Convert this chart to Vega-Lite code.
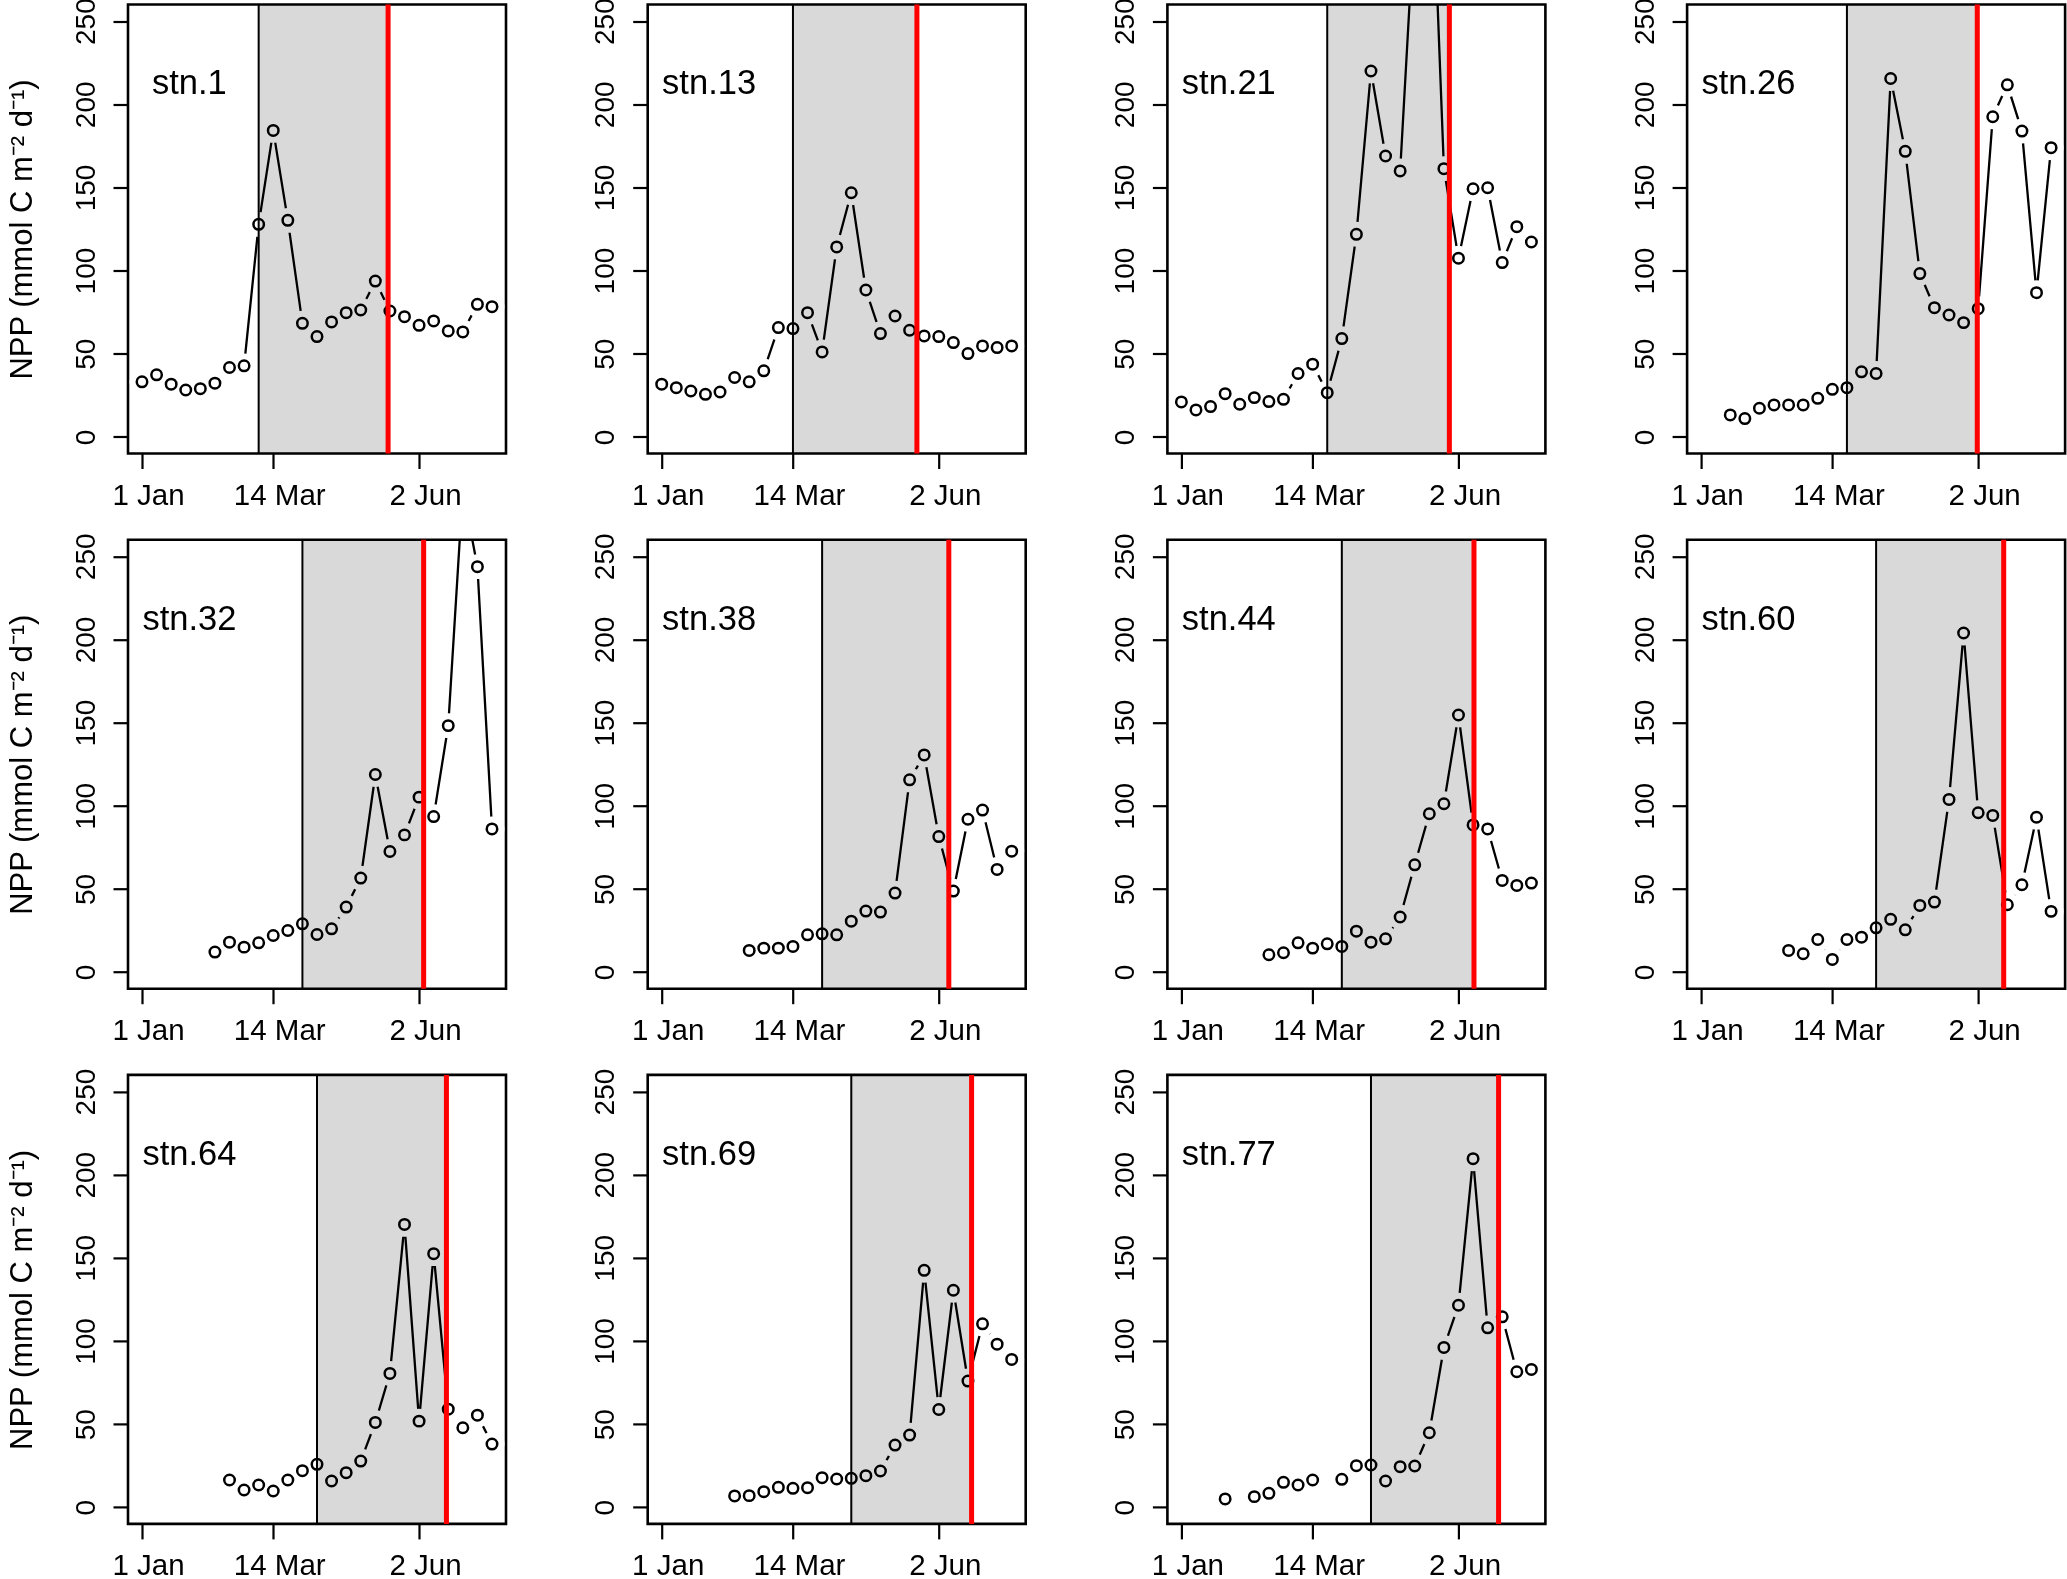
{
  "$schema": "https://vega.github.io/schema/vega-lite/v6.json",
  "background": "white",
  "padding": {"left": 4, "top": -4.5, "right": 0, "bottom": 0},
  "datasets": {
    "npp": [
      {"stn": "stn.1", "day": 1, "npp": 33.1}, {"stn": "stn.1", "day": 9, "npp": 37.3}, {"stn": "stn.1", "day": 17, "npp": 31.7}, {"stn": "stn.1", "day": 25, "npp": 28.2}, {"stn": "stn.1", "day": 33, "npp": 29.0}, {"stn": "stn.1", "day": 41, "npp": 32.3}, {"stn": "stn.1", "day": 49, "npp": 41.7}, {"stn": "stn.1", "day": 57, "npp": 42.7}, {"stn": "stn.1", "day": 65, "npp": 127.8}, {"stn": "stn.1", "day": 73, "npp": 184.3}, {"stn": "stn.1", "day": 81, "npp": 130.2}, {"stn": "stn.1", "day": 89, "npp": 68.3}, {"stn": "stn.1", "day": 97, "npp": 60.3}, {"stn": "stn.1", "day": 105, "npp": 69.1}, {"stn": "stn.1", "day": 113, "npp": 74.7}, {"stn": "stn.1", "day": 121, "npp": 76.3}, {"stn": "stn.1", "day": 129, "npp": 93.7}, {"stn": "stn.1", "day": 137, "npp": 75.7}, {"stn": "stn.1", "day": 145, "npp": 72.3}, {"stn": "stn.1", "day": 153, "npp": 67.1}, {"stn": "stn.1", "day": 161, "npp": 69.7}, {"stn": "stn.1", "day": 169, "npp": 63.7}, {"stn": "stn.1", "day": 177, "npp": 63.1}, {"stn": "stn.1", "day": 185, "npp": 79.7}, {"stn": "stn.1", "day": 193, "npp": 78.3},
      {"stn": "stn.13", "day": 1, "npp": 31.7}, {"stn": "stn.13", "day": 9, "npp": 29.6}, {"stn": "stn.13", "day": 17, "npp": 27.6}, {"stn": "stn.13", "day": 25, "npp": 25.6}, {"stn": "stn.13", "day": 33, "npp": 27.0}, {"stn": "stn.13", "day": 41, "npp": 35.7}, {"stn": "stn.13", "day": 49, "npp": 33.1}, {"stn": "stn.13", "day": 57, "npp": 39.7}, {"stn": "stn.13", "day": 65, "npp": 65.7}, {"stn": "stn.13", "day": 73, "npp": 65.1}, {"stn": "stn.13", "day": 81, "npp": 74.7}, {"stn": "stn.13", "day": 89, "npp": 51.1}, {"stn": "stn.13", "day": 97, "npp": 114.2}, {"stn": "stn.13", "day": 105, "npp": 146.8}, {"stn": "stn.13", "day": 113, "npp": 88.3}, {"stn": "stn.13", "day": 121, "npp": 62.1}, {"stn": "stn.13", "day": 129, "npp": 72.7}, {"stn": "stn.13", "day": 137, "npp": 64.1}, {"stn": "stn.13", "day": 145, "npp": 60.7}, {"stn": "stn.13", "day": 153, "npp": 60.3}, {"stn": "stn.13", "day": 161, "npp": 56.7}, {"stn": "stn.13", "day": 169, "npp": 50.1}, {"stn": "stn.13", "day": 177, "npp": 54.7}, {"stn": "stn.13", "day": 185, "npp": 53.7}, {"stn": "stn.13", "day": 193, "npp": 54.7},
      {"stn": "stn.21", "day": 1, "npp": 21.0}, {"stn": "stn.21", "day": 9, "npp": 16.2}, {"stn": "stn.21", "day": 17, "npp": 18.2}, {"stn": "stn.21", "day": 25, "npp": 26.0}, {"stn": "stn.21", "day": 33, "npp": 19.6}, {"stn": "stn.21", "day": 41, "npp": 23.6}, {"stn": "stn.21", "day": 49, "npp": 21.2}, {"stn": "stn.21", "day": 57, "npp": 22.6}, {"stn": "stn.21", "day": 65, "npp": 38.1}, {"stn": "stn.21", "day": 73, "npp": 43.7}, {"stn": "stn.21", "day": 81, "npp": 26.6}, {"stn": "stn.21", "day": 89, "npp": 59.1}, {"stn": "stn.21", "day": 97, "npp": 121.8}, {"stn": "stn.21", "day": 105, "npp": 220.0}, {"stn": "stn.21", "day": 113, "npp": 168.9}, {"stn": "stn.21", "day": 121, "npp": 159.9}, {"stn": "stn.21", "day": 129, "npp": 316}, {"stn": "stn.21", "day": 137, "npp": 390}, {"stn": "stn.21", "day": 145, "npp": 161.3}, {"stn": "stn.21", "day": 153, "npp": 107.4}, {"stn": "stn.21", "day": 161, "npp": 149.2}, {"stn": "stn.21", "day": 169, "npp": 149.8}, {"stn": "stn.21", "day": 177, "npp": 104.8}, {"stn": "stn.21", "day": 185, "npp": 126.4}, {"stn": "stn.21", "day": 193, "npp": 117.2},
      {"stn": "stn.26", "day": 17, "npp": 13.2}, {"stn": "stn.26", "day": 25, "npp": 11.0}, {"stn": "stn.26", "day": 33, "npp": 17.2}, {"stn": "stn.26", "day": 41, "npp": 19.2}, {"stn": "stn.26", "day": 49, "npp": 19.2}, {"stn": "stn.26", "day": 57, "npp": 19.2}, {"stn": "stn.26", "day": 65, "npp": 23.2}, {"stn": "stn.26", "day": 73, "npp": 28.6}, {"stn": "stn.26", "day": 81, "npp": 29.6}, {"stn": "stn.26", "day": 89, "npp": 39.1}, {"stn": "stn.26", "day": 97, "npp": 38.1}, {"stn": "stn.26", "day": 105, "npp": 215.5}, {"stn": "stn.26", "day": 113, "npp": 171.7}, {"stn": "stn.26", "day": 121, "npp": 98.2}, {"stn": "stn.26", "day": 129, "npp": 77.7}, {"stn": "stn.26", "day": 137, "npp": 73.3}, {"stn": "stn.26", "day": 145, "npp": 68.7}, {"stn": "stn.26", "day": 153, "npp": 77.1}, {"stn": "stn.26", "day": 161, "npp": 192.5}, {"stn": "stn.26", "day": 169, "npp": 211.7}, {"stn": "stn.26", "day": 177, "npp": 183.9}, {"stn": "stn.26", "day": 185, "npp": 86.7}, {"stn": "stn.26", "day": 193, "npp": 173.9},
      {"stn": "stn.32", "day": 41, "npp": 12.0}, {"stn": "stn.32", "day": 49, "npp": 18.0}, {"stn": "stn.32", "day": 57, "npp": 15.0}, {"stn": "stn.32", "day": 65, "npp": 17.6}, {"stn": "stn.32", "day": 73, "npp": 22.0}, {"stn": "stn.32", "day": 81, "npp": 25.0}, {"stn": "stn.32", "day": 89, "npp": 29.0}, {"stn": "stn.32", "day": 97, "npp": 22.6}, {"stn": "stn.32", "day": 105, "npp": 26.0}, {"stn": "stn.32", "day": 113, "npp": 39.1}, {"stn": "stn.32", "day": 121, "npp": 56.5}, {"stn": "stn.32", "day": 129, "npp": 118.8}, {"stn": "stn.32", "day": 137, "npp": 72.5}, {"stn": "stn.32", "day": 145, "npp": 82.5}, {"stn": "stn.32", "day": 153, "npp": 105.2}, {"stn": "stn.32", "day": 161, "npp": 93.5}, {"stn": "stn.32", "day": 169, "npp": 148.2}, {"stn": "stn.32", "day": 177, "npp": 290}, {"stn": "stn.32", "day": 185, "npp": 243.8}, {"stn": "stn.32", "day": 193, "npp": 86.1},
      {"stn": "stn.38", "day": 49, "npp": 13.0}, {"stn": "stn.38", "day": 57, "npp": 14.4}, {"stn": "stn.38", "day": 65, "npp": 14.4}, {"stn": "stn.38", "day": 73, "npp": 15.4}, {"stn": "stn.38", "day": 81, "npp": 22.4}, {"stn": "stn.38", "day": 89, "npp": 23.0}, {"stn": "stn.38", "day": 97, "npp": 22.4}, {"stn": "stn.38", "day": 105, "npp": 30.6}, {"stn": "stn.38", "day": 113, "npp": 36.7}, {"stn": "stn.38", "day": 121, "npp": 36.1}, {"stn": "stn.38", "day": 129, "npp": 47.5}, {"stn": "stn.38", "day": 137, "npp": 115.6}, {"stn": "stn.38", "day": 145, "npp": 130.6}, {"stn": "stn.38", "day": 153, "npp": 81.5}, {"stn": "stn.38", "day": 161, "npp": 48.7}, {"stn": "stn.38", "day": 169, "npp": 91.9}, {"stn": "stn.38", "day": 177, "npp": 97.4}, {"stn": "stn.38", "day": 185, "npp": 61.7}, {"stn": "stn.38", "day": 193, "npp": 72.7},
      {"stn": "stn.44", "day": 49, "npp": 10.4}, {"stn": "stn.44", "day": 57, "npp": 11.6}, {"stn": "stn.44", "day": 65, "npp": 17.6}, {"stn": "stn.44", "day": 73, "npp": 14.4}, {"stn": "stn.44", "day": 81, "npp": 17.0}, {"stn": "stn.44", "day": 89, "npp": 15.4}, {"stn": "stn.44", "day": 97, "npp": 24.6}, {"stn": "stn.44", "day": 105, "npp": 18.0}, {"stn": "stn.44", "day": 113, "npp": 20.0}, {"stn": "stn.44", "day": 121, "npp": 33.1}, {"stn": "stn.44", "day": 129, "npp": 64.5}, {"stn": "stn.44", "day": 137, "npp": 95.2}, {"stn": "stn.44", "day": 145, "npp": 101.2}, {"stn": "stn.44", "day": 153, "npp": 154.6}, {"stn": "stn.44", "day": 161, "npp": 88.5}, {"stn": "stn.44", "day": 169, "npp": 86.1}, {"stn": "stn.44", "day": 177, "npp": 55.1}, {"stn": "stn.44", "day": 185, "npp": 52.1}, {"stn": "stn.44", "day": 193, "npp": 53.5},
      {"stn": "stn.60", "day": 49, "npp": 13.0}, {"stn": "stn.60", "day": 57, "npp": 11.0}, {"stn": "stn.60", "day": 65, "npp": 19.6}, {"stn": "stn.60", "day": 73, "npp": 7.6}, {"stn": "stn.60", "day": 81, "npp": 19.6}, {"stn": "stn.60", "day": 89, "npp": 21.0}, {"stn": "stn.60", "day": 97, "npp": 26.6}, {"stn": "stn.60", "day": 105, "npp": 31.7}, {"stn": "stn.60", "day": 113, "npp": 25.4}, {"stn": "stn.60", "day": 121, "npp": 40.1}, {"stn": "stn.60", "day": 129, "npp": 42.1}, {"stn": "stn.60", "day": 137, "npp": 103.8}, {"stn": "stn.60", "day": 145, "npp": 203.9}, {"stn": "stn.60", "day": 153, "npp": 95.8}, {"stn": "stn.60", "day": 161, "npp": 94.2}, {"stn": "stn.60", "day": 169, "npp": 40.5}, {"stn": "stn.60", "day": 177, "npp": 52.5}, {"stn": "stn.60", "day": 185, "npp": 93.1}, {"stn": "stn.60", "day": 193, "npp": 36.5},
      {"stn": "stn.64", "day": 49, "npp": 16.4}, {"stn": "stn.64", "day": 57, "npp": 10.4}, {"stn": "stn.64", "day": 65, "npp": 13.4}, {"stn": "stn.64", "day": 73, "npp": 9.8}, {"stn": "stn.64", "day": 81, "npp": 16.4}, {"stn": "stn.64", "day": 89, "npp": 22.0}, {"stn": "stn.64", "day": 97, "npp": 25.8}, {"stn": "stn.64", "day": 105, "npp": 15.8}, {"stn": "stn.64", "day": 113, "npp": 20.8}, {"stn": "stn.64", "day": 121, "npp": 27.8}, {"stn": "stn.64", "day": 129, "npp": 51.0}, {"stn": "stn.64", "day": 137, "npp": 80.5}, {"stn": "stn.64", "day": 145, "npp": 170.1}, {"stn": "stn.64", "day": 153, "npp": 51.8}, {"stn": "stn.64", "day": 161, "npp": 152.5}, {"stn": "stn.64", "day": 169, "npp": 59.0}, {"stn": "stn.64", "day": 177, "npp": 47.8}, {"stn": "stn.64", "day": 185, "npp": 55.4}, {"stn": "stn.64", "day": 193, "npp": 38.0},
      {"stn": "stn.69", "day": 41, "npp": 6.8}, {"stn": "stn.69", "day": 49, "npp": 7.0}, {"stn": "stn.69", "day": 57, "npp": 9.4}, {"stn": "stn.69", "day": 65, "npp": 12.0}, {"stn": "stn.69", "day": 73, "npp": 11.4}, {"stn": "stn.69", "day": 81, "npp": 11.8}, {"stn": "stn.69", "day": 89, "npp": 17.8}, {"stn": "stn.69", "day": 97, "npp": 17.0}, {"stn": "stn.69", "day": 105, "npp": 17.4}, {"stn": "stn.69", "day": 113, "npp": 19.0}, {"stn": "stn.69", "day": 121, "npp": 21.8}, {"stn": "stn.69", "day": 129, "npp": 37.4}, {"stn": "stn.69", "day": 137, "npp": 43.4}, {"stn": "stn.69", "day": 145, "npp": 142.5}, {"stn": "stn.69", "day": 153, "npp": 58.8}, {"stn": "stn.69", "day": 161, "npp": 130.5}, {"stn": "stn.69", "day": 169, "npp": 75.9}, {"stn": "stn.69", "day": 177, "npp": 110.3}, {"stn": "stn.69", "day": 185, "npp": 98.1}, {"stn": "stn.69", "day": 193, "npp": 88.9},
      {"stn": "stn.77", "day": 25, "npp": 5.0}, {"stn": "stn.77", "day": 33, "npp": null}, {"stn": "stn.77", "day": 41, "npp": 6.4}, {"stn": "stn.77", "day": 49, "npp": 8.4}, {"stn": "stn.77", "day": 57, "npp": 15.0}, {"stn": "stn.77", "day": 65, "npp": 13.4}, {"stn": "stn.77", "day": 73, "npp": 16.4}, {"stn": "stn.77", "day": 81, "npp": null}, {"stn": "stn.77", "day": 89, "npp": 16.8}, {"stn": "stn.77", "day": 97, "npp": 25.0}, {"stn": "stn.77", "day": 105, "npp": 25.4}, {"stn": "stn.77", "day": 113, "npp": 15.8}, {"stn": "stn.77", "day": 121, "npp": 24.4}, {"stn": "stn.77", "day": 129, "npp": 24.8}, {"stn": "stn.77", "day": 137, "npp": 44.8}, {"stn": "stn.77", "day": 145, "npp": 96.1}, {"stn": "stn.77", "day": 153, "npp": 121.5}, {"stn": "stn.77", "day": 161, "npp": 209.6}, {"stn": "stn.77", "day": 169, "npp": 107.9}, {"stn": "stn.77", "day": 177, "npp": 114.5}, {"stn": "stn.77", "day": 185, "npp": 81.5}, {"stn": "stn.77", "day": 193, "npp": 82.9}
    ],
    "bloom": [
      {"stn": "stn.1", "start": 65, "end": 136},
      {"stn": "stn.13", "start": 73, "end": 141},
      {"stn": "stn.21", "start": 81, "end": 148},
      {"stn": "stn.26", "start": 81, "end": 152.5},
      {"stn": "stn.32", "start": 89, "end": 155.5},
      {"stn": "stn.38", "start": 89, "end": 158.5},
      {"stn": "stn.44", "start": 89, "end": 161.5},
      {"stn": "stn.60", "start": 97, "end": 167},
      {"stn": "stn.64", "start": 97, "end": 168},
      {"stn": "stn.69", "start": 105, "end": 171},
      {"stn": "stn.77", "start": 105, "end": 175}
    ]
  },
  "columns": 4,
  "bounds": "flush",
  "spacing": {"row": 86.2, "column": 141.7},
  "concat": [
    {"width": 378, "height": 449, "layer": [
      {"data": {"name": "npp"}, "transform": [{"filter": "datum.stn === 'stn.1'"}],
       "encoding": {
         "x": {"field": "day", "type": "quantitative", "title": null, "scale": {"domain": [-6.68, 200.68], "nice": false, "zero": false}, "axis": {"values": [1, 73, 153], "labelExpr": "datum.value == 1 ? '\u00a01 Jan' : datum.value == 73 ? '14 Mar' : '\u00a02 Jun'"}},
         "y": {"field": "npp", "type": "quantitative", "title": "NPP (mmol C m\u207b\u00b2 d\u207b\u00b9)", "scale": {"domain": [-10, 260], "nice": false, "zero": false}, "axis": {"values": [0, 50, 100, 150, 200, 250]}}},
       "layer": [
         {"mark": {"type": "line", "color": "black", "strokeWidth": 2.3, "clip": true, "invalid": "break-paths-show-domains"}, "encoding": {}},
         {"mark": {"type": "point", "shape": "circle", "filled": true, "color": "white", "opacity": 1, "size": 620, "clip": true}},
         {"mark": {"type": "point", "shape": "circle", "filled": false, "color": "black", "opacity": 1, "size": 110, "strokeWidth": 2.5, "clip": true}}
       ]},
      {"data": {"name": "bloom"}, "transform": [{"filter": "datum.stn === 'stn.1'"}],
       "encoding": {"x": {"field": "start", "type": "quantitative", "title": null, "scale": {"domain": [-6.68, 200.68], "nice": false, "zero": false}}},
       "layer": [
         {"mark": {"type": "rect", "fill": "#d9d9d9", "blend": "multiply"}, "encoding": {"x2": {"field": "end", "title": null}}},
         {"mark": {"type": "rule", "color": "black", "strokeWidth": 2}, "encoding": {}},
         {"mark": {"type": "rule", "color": "#ff0000", "strokeWidth": 5}, "encoding": {"x": {"field": "end", "type": "quantitative", "title": null, "scale": {"domain": [-6.68, 200.68], "nice": false, "zero": false}}}},
         {"mark": {"type": "text", "fontSize": 34.5, "align": "center", "baseline": "alphabetic", "color": "black"}, "encoding": {"x": {"datum": 27, "type": "quantitative", "scale": {"domain": [-6.68, 200.68], "nice": false, "zero": false}}, "y": {"datum": 206, "type": "quantitative", "scale": {"domain": [-10, 260], "nice": false, "zero": false}}, "text": {"field": "stn"}}}
       ]}
    ]},
    {"width": 378, "height": 449, "layer": [
      {"data": {"name": "npp"}, "transform": [{"filter": "datum.stn === 'stn.13'"}],
       "encoding": {
         "x": {"field": "day", "type": "quantitative", "title": null, "scale": {"domain": [-6.68, 200.68], "nice": false, "zero": false}, "axis": {"values": [1, 73, 153], "labelExpr": "datum.value == 1 ? '\u00a01 Jan' : datum.value == 73 ? '14 Mar' : '\u00a02 Jun'"}},
         "y": {"field": "npp", "type": "quantitative", "title": null, "scale": {"domain": [-10, 260], "nice": false, "zero": false}, "axis": {"values": [0, 50, 100, 150, 200, 250]}}},
       "layer": [
         {"mark": {"type": "line", "color": "black", "strokeWidth": 2.3, "clip": true, "invalid": "break-paths-show-domains"}, "encoding": {}},
         {"mark": {"type": "point", "shape": "circle", "filled": true, "color": "white", "opacity": 1, "size": 620, "clip": true}},
         {"mark": {"type": "point", "shape": "circle", "filled": false, "color": "black", "opacity": 1, "size": 110, "strokeWidth": 2.5, "clip": true}}
       ]},
      {"data": {"name": "bloom"}, "transform": [{"filter": "datum.stn === 'stn.13'"}],
       "encoding": {"x": {"field": "start", "type": "quantitative", "title": null, "scale": {"domain": [-6.68, 200.68], "nice": false, "zero": false}}},
       "layer": [
         {"mark": {"type": "rect", "fill": "#d9d9d9", "blend": "multiply"}, "encoding": {"x2": {"field": "end", "title": null}}},
         {"mark": {"type": "rule", "color": "black", "strokeWidth": 2}, "encoding": {}},
         {"mark": {"type": "rule", "color": "#ff0000", "strokeWidth": 5}, "encoding": {"x": {"field": "end", "type": "quantitative", "title": null, "scale": {"domain": [-6.68, 200.68], "nice": false, "zero": false}}}},
         {"mark": {"type": "text", "fontSize": 34.5, "align": "center", "baseline": "alphabetic", "color": "black"}, "encoding": {"x": {"datum": 27, "type": "quantitative", "scale": {"domain": [-6.68, 200.68], "nice": false, "zero": false}}, "y": {"datum": 206, "type": "quantitative", "scale": {"domain": [-10, 260], "nice": false, "zero": false}}, "text": {"field": "stn"}}}
       ]}
    ]},
    {"width": 378, "height": 449, "layer": [
      {"data": {"name": "npp"}, "transform": [{"filter": "datum.stn === 'stn.21'"}],
       "encoding": {
         "x": {"field": "day", "type": "quantitative", "title": null, "scale": {"domain": [-6.68, 200.68], "nice": false, "zero": false}, "axis": {"values": [1, 73, 153], "labelExpr": "datum.value == 1 ? '\u00a01 Jan' : datum.value == 73 ? '14 Mar' : '\u00a02 Jun'"}},
         "y": {"field": "npp", "type": "quantitative", "title": null, "scale": {"domain": [-10, 260], "nice": false, "zero": false}, "axis": {"values": [0, 50, 100, 150, 200, 250]}}},
       "layer": [
         {"mark": {"type": "line", "color": "black", "strokeWidth": 2.3, "clip": true, "invalid": "break-paths-show-domains"}, "encoding": {}},
         {"mark": {"type": "point", "shape": "circle", "filled": true, "color": "white", "opacity": 1, "size": 620, "clip": true}},
         {"mark": {"type": "point", "shape": "circle", "filled": false, "color": "black", "opacity": 1, "size": 110, "strokeWidth": 2.5, "clip": true}}
       ]},
      {"data": {"name": "bloom"}, "transform": [{"filter": "datum.stn === 'stn.21'"}],
       "encoding": {"x": {"field": "start", "type": "quantitative", "title": null, "scale": {"domain": [-6.68, 200.68], "nice": false, "zero": false}}},
       "layer": [
         {"mark": {"type": "rect", "fill": "#d9d9d9", "blend": "multiply"}, "encoding": {"x2": {"field": "end", "title": null}}},
         {"mark": {"type": "rule", "color": "black", "strokeWidth": 2}, "encoding": {}},
         {"mark": {"type": "rule", "color": "#ff0000", "strokeWidth": 5}, "encoding": {"x": {"field": "end", "type": "quantitative", "title": null, "scale": {"domain": [-6.68, 200.68], "nice": false, "zero": false}}}},
         {"mark": {"type": "text", "fontSize": 34.5, "align": "center", "baseline": "alphabetic", "color": "black"}, "encoding": {"x": {"datum": 27, "type": "quantitative", "scale": {"domain": [-6.68, 200.68], "nice": false, "zero": false}}, "y": {"datum": 206, "type": "quantitative", "scale": {"domain": [-10, 260], "nice": false, "zero": false}}, "text": {"field": "stn"}}}
       ]}
    ]},
    {"width": 378, "height": 449, "layer": [
      {"data": {"name": "npp"}, "transform": [{"filter": "datum.stn === 'stn.26'"}],
       "encoding": {
         "x": {"field": "day", "type": "quantitative", "title": null, "scale": {"domain": [-6.68, 200.68], "nice": false, "zero": false}, "axis": {"values": [1, 73, 153], "labelExpr": "datum.value == 1 ? '\u00a01 Jan' : datum.value == 73 ? '14 Mar' : '\u00a02 Jun'"}},
         "y": {"field": "npp", "type": "quantitative", "title": null, "scale": {"domain": [-10, 260], "nice": false, "zero": false}, "axis": {"values": [0, 50, 100, 150, 200, 250]}}},
       "layer": [
         {"mark": {"type": "line", "color": "black", "strokeWidth": 2.3, "clip": true, "invalid": "break-paths-show-domains"}, "encoding": {}},
         {"mark": {"type": "point", "shape": "circle", "filled": true, "color": "white", "opacity": 1, "size": 620, "clip": true}},
         {"mark": {"type": "point", "shape": "circle", "filled": false, "color": "black", "opacity": 1, "size": 110, "strokeWidth": 2.5, "clip": true}}
       ]},
      {"data": {"name": "bloom"}, "transform": [{"filter": "datum.stn === 'stn.26'"}],
       "encoding": {"x": {"field": "start", "type": "quantitative", "title": null, "scale": {"domain": [-6.68, 200.68], "nice": false, "zero": false}}},
       "layer": [
         {"mark": {"type": "rect", "fill": "#d9d9d9", "blend": "multiply"}, "encoding": {"x2": {"field": "end", "title": null}}},
         {"mark": {"type": "rule", "color": "black", "strokeWidth": 2}, "encoding": {}},
         {"mark": {"type": "rule", "color": "#ff0000", "strokeWidth": 5}, "encoding": {"x": {"field": "end", "type": "quantitative", "title": null, "scale": {"domain": [-6.68, 200.68], "nice": false, "zero": false}}}},
         {"mark": {"type": "text", "fontSize": 34.5, "align": "center", "baseline": "alphabetic", "color": "black"}, "encoding": {"x": {"datum": 27, "type": "quantitative", "scale": {"domain": [-6.68, 200.68], "nice": false, "zero": false}}, "y": {"datum": 206, "type": "quantitative", "scale": {"domain": [-10, 260], "nice": false, "zero": false}}, "text": {"field": "stn"}}}
       ]}
    ]},
    {"width": 378, "height": 449, "layer": [
      {"data": {"name": "npp"}, "transform": [{"filter": "datum.stn === 'stn.32'"}],
       "encoding": {
         "x": {"field": "day", "type": "quantitative", "title": null, "scale": {"domain": [-6.68, 200.68], "nice": false, "zero": false}, "axis": {"values": [1, 73, 153], "labelExpr": "datum.value == 1 ? '\u00a01 Jan' : datum.value == 73 ? '14 Mar' : '\u00a02 Jun'"}},
         "y": {"field": "npp", "type": "quantitative", "title": "NPP (mmol C m\u207b\u00b2 d\u207b\u00b9)", "scale": {"domain": [-10, 260], "nice": false, "zero": false}, "axis": {"values": [0, 50, 100, 150, 200, 250]}}},
       "layer": [
         {"mark": {"type": "line", "color": "black", "strokeWidth": 2.3, "clip": true, "invalid": "break-paths-show-domains"}, "encoding": {}},
         {"mark": {"type": "point", "shape": "circle", "filled": true, "color": "white", "opacity": 1, "size": 620, "clip": true}},
         {"mark": {"type": "point", "shape": "circle", "filled": false, "color": "black", "opacity": 1, "size": 110, "strokeWidth": 2.5, "clip": true}}
       ]},
      {"data": {"name": "bloom"}, "transform": [{"filter": "datum.stn === 'stn.32'"}],
       "encoding": {"x": {"field": "start", "type": "quantitative", "title": null, "scale": {"domain": [-6.68, 200.68], "nice": false, "zero": false}}},
       "layer": [
         {"mark": {"type": "rect", "fill": "#d9d9d9", "blend": "multiply"}, "encoding": {"x2": {"field": "end", "title": null}}},
         {"mark": {"type": "rule", "color": "black", "strokeWidth": 2}, "encoding": {}},
         {"mark": {"type": "rule", "color": "#ff0000", "strokeWidth": 5}, "encoding": {"x": {"field": "end", "type": "quantitative", "title": null, "scale": {"domain": [-6.68, 200.68], "nice": false, "zero": false}}}},
         {"mark": {"type": "text", "fontSize": 34.5, "align": "center", "baseline": "alphabetic", "color": "black"}, "encoding": {"x": {"datum": 27, "type": "quantitative", "scale": {"domain": [-6.68, 200.68], "nice": false, "zero": false}}, "y": {"datum": 206, "type": "quantitative", "scale": {"domain": [-10, 260], "nice": false, "zero": false}}, "text": {"field": "stn"}}}
       ]}
    ]},
    {"width": 378, "height": 449, "layer": [
      {"data": {"name": "npp"}, "transform": [{"filter": "datum.stn === 'stn.38'"}],
       "encoding": {
         "x": {"field": "day", "type": "quantitative", "title": null, "scale": {"domain": [-6.68, 200.68], "nice": false, "zero": false}, "axis": {"values": [1, 73, 153], "labelExpr": "datum.value == 1 ? '\u00a01 Jan' : datum.value == 73 ? '14 Mar' : '\u00a02 Jun'"}},
         "y": {"field": "npp", "type": "quantitative", "title": null, "scale": {"domain": [-10, 260], "nice": false, "zero": false}, "axis": {"values": [0, 50, 100, 150, 200, 250]}}},
       "layer": [
         {"mark": {"type": "line", "color": "black", "strokeWidth": 2.3, "clip": true, "invalid": "break-paths-show-domains"}, "encoding": {}},
         {"mark": {"type": "point", "shape": "circle", "filled": true, "color": "white", "opacity": 1, "size": 620, "clip": true}},
         {"mark": {"type": "point", "shape": "circle", "filled": false, "color": "black", "opacity": 1, "size": 110, "strokeWidth": 2.5, "clip": true}}
       ]},
      {"data": {"name": "bloom"}, "transform": [{"filter": "datum.stn === 'stn.38'"}],
       "encoding": {"x": {"field": "start", "type": "quantitative", "title": null, "scale": {"domain": [-6.68, 200.68], "nice": false, "zero": false}}},
       "layer": [
         {"mark": {"type": "rect", "fill": "#d9d9d9", "blend": "multiply"}, "encoding": {"x2": {"field": "end", "title": null}}},
         {"mark": {"type": "rule", "color": "black", "strokeWidth": 2}, "encoding": {}},
         {"mark": {"type": "rule", "color": "#ff0000", "strokeWidth": 5}, "encoding": {"x": {"field": "end", "type": "quantitative", "title": null, "scale": {"domain": [-6.68, 200.68], "nice": false, "zero": false}}}},
         {"mark": {"type": "text", "fontSize": 34.5, "align": "center", "baseline": "alphabetic", "color": "black"}, "encoding": {"x": {"datum": 27, "type": "quantitative", "scale": {"domain": [-6.68, 200.68], "nice": false, "zero": false}}, "y": {"datum": 206, "type": "quantitative", "scale": {"domain": [-10, 260], "nice": false, "zero": false}}, "text": {"field": "stn"}}}
       ]}
    ]},
    {"width": 378, "height": 449, "layer": [
      {"data": {"name": "npp"}, "transform": [{"filter": "datum.stn === 'stn.44'"}],
       "encoding": {
         "x": {"field": "day", "type": "quantitative", "title": null, "scale": {"domain": [-6.68, 200.68], "nice": false, "zero": false}, "axis": {"values": [1, 73, 153], "labelExpr": "datum.value == 1 ? '\u00a01 Jan' : datum.value == 73 ? '14 Mar' : '\u00a02 Jun'"}},
         "y": {"field": "npp", "type": "quantitative", "title": null, "scale": {"domain": [-10, 260], "nice": false, "zero": false}, "axis": {"values": [0, 50, 100, 150, 200, 250]}}},
       "layer": [
         {"mark": {"type": "line", "color": "black", "strokeWidth": 2.3, "clip": true, "invalid": "break-paths-show-domains"}, "encoding": {}},
         {"mark": {"type": "point", "shape": "circle", "filled": true, "color": "white", "opacity": 1, "size": 620, "clip": true}},
         {"mark": {"type": "point", "shape": "circle", "filled": false, "color": "black", "opacity": 1, "size": 110, "strokeWidth": 2.5, "clip": true}}
       ]},
      {"data": {"name": "bloom"}, "transform": [{"filter": "datum.stn === 'stn.44'"}],
       "encoding": {"x": {"field": "start", "type": "quantitative", "title": null, "scale": {"domain": [-6.68, 200.68], "nice": false, "zero": false}}},
       "layer": [
         {"mark": {"type": "rect", "fill": "#d9d9d9", "blend": "multiply"}, "encoding": {"x2": {"field": "end", "title": null}}},
         {"mark": {"type": "rule", "color": "black", "strokeWidth": 2}, "encoding": {}},
         {"mark": {"type": "rule", "color": "#ff0000", "strokeWidth": 5}, "encoding": {"x": {"field": "end", "type": "quantitative", "title": null, "scale": {"domain": [-6.68, 200.68], "nice": false, "zero": false}}}},
         {"mark": {"type": "text", "fontSize": 34.5, "align": "center", "baseline": "alphabetic", "color": "black"}, "encoding": {"x": {"datum": 27, "type": "quantitative", "scale": {"domain": [-6.68, 200.68], "nice": false, "zero": false}}, "y": {"datum": 206, "type": "quantitative", "scale": {"domain": [-10, 260], "nice": false, "zero": false}}, "text": {"field": "stn"}}}
       ]}
    ]},
    {"width": 378, "height": 449, "layer": [
      {"data": {"name": "npp"}, "transform": [{"filter": "datum.stn === 'stn.60'"}],
       "encoding": {
         "x": {"field": "day", "type": "quantitative", "title": null, "scale": {"domain": [-6.68, 200.68], "nice": false, "zero": false}, "axis": {"values": [1, 73, 153], "labelExpr": "datum.value == 1 ? '\u00a01 Jan' : datum.value == 73 ? '14 Mar' : '\u00a02 Jun'"}},
         "y": {"field": "npp", "type": "quantitative", "title": null, "scale": {"domain": [-10, 260], "nice": false, "zero": false}, "axis": {"values": [0, 50, 100, 150, 200, 250]}}},
       "layer": [
         {"mark": {"type": "line", "color": "black", "strokeWidth": 2.3, "clip": true, "invalid": "break-paths-show-domains"}, "encoding": {}},
         {"mark": {"type": "point", "shape": "circle", "filled": true, "color": "white", "opacity": 1, "size": 620, "clip": true}},
         {"mark": {"type": "point", "shape": "circle", "filled": false, "color": "black", "opacity": 1, "size": 110, "strokeWidth": 2.5, "clip": true}}
       ]},
      {"data": {"name": "bloom"}, "transform": [{"filter": "datum.stn === 'stn.60'"}],
       "encoding": {"x": {"field": "start", "type": "quantitative", "title": null, "scale": {"domain": [-6.68, 200.68], "nice": false, "zero": false}}},
       "layer": [
         {"mark": {"type": "rect", "fill": "#d9d9d9", "blend": "multiply"}, "encoding": {"x2": {"field": "end", "title": null}}},
         {"mark": {"type": "rule", "color": "black", "strokeWidth": 2}, "encoding": {}},
         {"mark": {"type": "rule", "color": "#ff0000", "strokeWidth": 5}, "encoding": {"x": {"field": "end", "type": "quantitative", "title": null, "scale": {"domain": [-6.68, 200.68], "nice": false, "zero": false}}}},
         {"mark": {"type": "text", "fontSize": 34.5, "align": "center", "baseline": "alphabetic", "color": "black"}, "encoding": {"x": {"datum": 27, "type": "quantitative", "scale": {"domain": [-6.68, 200.68], "nice": false, "zero": false}}, "y": {"datum": 206, "type": "quantitative", "scale": {"domain": [-10, 260], "nice": false, "zero": false}}, "text": {"field": "stn"}}}
       ]}
    ]},
    {"width": 378, "height": 449, "layer": [
      {"data": {"name": "npp"}, "transform": [{"filter": "datum.stn === 'stn.64'"}],
       "encoding": {
         "x": {"field": "day", "type": "quantitative", "title": null, "scale": {"domain": [-6.68, 200.68], "nice": false, "zero": false}, "axis": {"values": [1, 73, 153], "labelExpr": "datum.value == 1 ? '\u00a01 Jan' : datum.value == 73 ? '14 Mar' : '\u00a02 Jun'"}},
         "y": {"field": "npp", "type": "quantitative", "title": "NPP (mmol C m\u207b\u00b2 d\u207b\u00b9)", "scale": {"domain": [-10, 260], "nice": false, "zero": false}, "axis": {"values": [0, 50, 100, 150, 200, 250]}}},
       "layer": [
         {"mark": {"type": "line", "color": "black", "strokeWidth": 2.3, "clip": true, "invalid": "break-paths-show-domains"}, "encoding": {}},
         {"mark": {"type": "point", "shape": "circle", "filled": true, "color": "white", "opacity": 1, "size": 620, "clip": true}},
         {"mark": {"type": "point", "shape": "circle", "filled": false, "color": "black", "opacity": 1, "size": 110, "strokeWidth": 2.5, "clip": true}}
       ]},
      {"data": {"name": "bloom"}, "transform": [{"filter": "datum.stn === 'stn.64'"}],
       "encoding": {"x": {"field": "start", "type": "quantitative", "title": null, "scale": {"domain": [-6.68, 200.68], "nice": false, "zero": false}}},
       "layer": [
         {"mark": {"type": "rect", "fill": "#d9d9d9", "blend": "multiply"}, "encoding": {"x2": {"field": "end", "title": null}}},
         {"mark": {"type": "rule", "color": "black", "strokeWidth": 2}, "encoding": {}},
         {"mark": {"type": "rule", "color": "#ff0000", "strokeWidth": 5}, "encoding": {"x": {"field": "end", "type": "quantitative", "title": null, "scale": {"domain": [-6.68, 200.68], "nice": false, "zero": false}}}},
         {"mark": {"type": "text", "fontSize": 34.5, "align": "center", "baseline": "alphabetic", "color": "black"}, "encoding": {"x": {"datum": 27, "type": "quantitative", "scale": {"domain": [-6.68, 200.68], "nice": false, "zero": false}}, "y": {"datum": 206, "type": "quantitative", "scale": {"domain": [-10, 260], "nice": false, "zero": false}}, "text": {"field": "stn"}}}
       ]}
    ]},
    {"width": 378, "height": 449, "layer": [
      {"data": {"name": "npp"}, "transform": [{"filter": "datum.stn === 'stn.69'"}],
       "encoding": {
         "x": {"field": "day", "type": "quantitative", "title": null, "scale": {"domain": [-6.68, 200.68], "nice": false, "zero": false}, "axis": {"values": [1, 73, 153], "labelExpr": "datum.value == 1 ? '\u00a01 Jan' : datum.value == 73 ? '14 Mar' : '\u00a02 Jun'"}},
         "y": {"field": "npp", "type": "quantitative", "title": null, "scale": {"domain": [-10, 260], "nice": false, "zero": false}, "axis": {"values": [0, 50, 100, 150, 200, 250]}}},
       "layer": [
         {"mark": {"type": "line", "color": "black", "strokeWidth": 2.3, "clip": true, "invalid": "break-paths-show-domains"}, "encoding": {}},
         {"mark": {"type": "point", "shape": "circle", "filled": true, "color": "white", "opacity": 1, "size": 620, "clip": true}},
         {"mark": {"type": "point", "shape": "circle", "filled": false, "color": "black", "opacity": 1, "size": 110, "strokeWidth": 2.5, "clip": true}}
       ]},
      {"data": {"name": "bloom"}, "transform": [{"filter": "datum.stn === 'stn.69'"}],
       "encoding": {"x": {"field": "start", "type": "quantitative", "title": null, "scale": {"domain": [-6.68, 200.68], "nice": false, "zero": false}}},
       "layer": [
         {"mark": {"type": "rect", "fill": "#d9d9d9", "blend": "multiply"}, "encoding": {"x2": {"field": "end", "title": null}}},
         {"mark": {"type": "rule", "color": "black", "strokeWidth": 2}, "encoding": {}},
         {"mark": {"type": "rule", "color": "#ff0000", "strokeWidth": 5}, "encoding": {"x": {"field": "end", "type": "quantitative", "title": null, "scale": {"domain": [-6.68, 200.68], "nice": false, "zero": false}}}},
         {"mark": {"type": "text", "fontSize": 34.5, "align": "center", "baseline": "alphabetic", "color": "black"}, "encoding": {"x": {"datum": 27, "type": "quantitative", "scale": {"domain": [-6.68, 200.68], "nice": false, "zero": false}}, "y": {"datum": 206, "type": "quantitative", "scale": {"domain": [-10, 260], "nice": false, "zero": false}}, "text": {"field": "stn"}}}
       ]}
    ]},
    {"width": 378, "height": 449, "layer": [
      {"data": {"name": "npp"}, "transform": [{"filter": "datum.stn === 'stn.77'"}],
       "encoding": {
         "x": {"field": "day", "type": "quantitative", "title": null, "scale": {"domain": [-6.68, 200.68], "nice": false, "zero": false}, "axis": {"values": [1, 73, 153], "labelExpr": "datum.value == 1 ? '\u00a01 Jan' : datum.value == 73 ? '14 Mar' : '\u00a02 Jun'"}},
         "y": {"field": "npp", "type": "quantitative", "title": null, "scale": {"domain": [-10, 260], "nice": false, "zero": false}, "axis": {"values": [0, 50, 100, 150, 200, 250]}}},
       "layer": [
         {"mark": {"type": "line", "color": "black", "strokeWidth": 2.3, "clip": true, "invalid": "break-paths-show-domains"}, "encoding": {}},
         {"mark": {"type": "point", "shape": "circle", "filled": true, "color": "white", "opacity": 1, "size": 620, "clip": true}},
         {"mark": {"type": "point", "shape": "circle", "filled": false, "color": "black", "opacity": 1, "size": 110, "strokeWidth": 2.5, "clip": true}}
       ]},
      {"data": {"name": "bloom"}, "transform": [{"filter": "datum.stn === 'stn.77'"}],
       "encoding": {"x": {"field": "start", "type": "quantitative", "title": null, "scale": {"domain": [-6.68, 200.68], "nice": false, "zero": false}}},
       "layer": [
         {"mark": {"type": "rect", "fill": "#d9d9d9", "blend": "multiply"}, "encoding": {"x2": {"field": "end", "title": null}}},
         {"mark": {"type": "rule", "color": "black", "strokeWidth": 2}, "encoding": {}},
         {"mark": {"type": "rule", "color": "#ff0000", "strokeWidth": 5}, "encoding": {"x": {"field": "end", "type": "quantitative", "title": null, "scale": {"domain": [-6.68, 200.68], "nice": false, "zero": false}}}},
         {"mark": {"type": "text", "fontSize": 34.5, "align": "center", "baseline": "alphabetic", "color": "black"}, "encoding": {"x": {"datum": 27, "type": "quantitative", "scale": {"domain": [-6.68, 200.68], "nice": false, "zero": false}}, "y": {"datum": 206, "type": "quantitative", "scale": {"domain": [-10, 260], "nice": false, "zero": false}}, "text": {"field": "stn"}}}
       ]}
    ]}
  ],
  "config": {
    "font": "Liberation Sans",
    "view": {"stroke": "black", "strokeWidth": 2.6},
    "axis": {"domain": false, "grid": false, "ticks": true, "tickSize": 15, "tickWidth": 2.2, "tickColor": "black", "labelColor": "black", "labelFont": "Liberation Sans", "labelFontSize": 28, "labelOverlap": false, "labelFlush": false, "titleFont": "Liberation Sans", "titleFontSize": 31, "titleFontWeight": "normal", "titleColor": "black"},
    "axisX": {"labelBaseline": "alphabetic", "labelPadding": 36, "labelOffset": 6, "labelFontSize": 29.5},
    "axisY": {"labelAngle": -90, "labelAlign": "center", "labelBaseline": "alphabetic", "labelPadding": 19, "titleBaseline": "alphabetic", "titlePadding": 41}
  }
}
